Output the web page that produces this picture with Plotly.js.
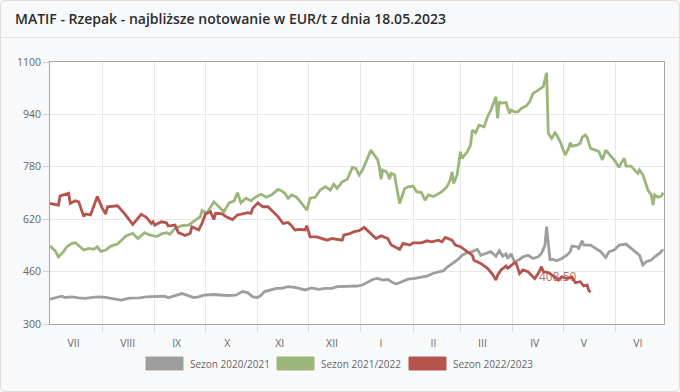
<!DOCTYPE html>
<html>
<head>
<meta charset="utf-8">
<script src="https://cdn.plot.ly/plotly-3.0.1.min.js"></script>
<style>
  html, body { margin: 0; padding: 0; background: #ffffff; }
  #card { position: absolute; left: 0; top: 0; width: 678px; height: 390px;
          border: 1px solid #dedede; border-radius: 4px; background: #f8f9fa; }
  #hdr { position: absolute; left: 0; top: 36px; width: 678px; height: 1px; background: #e2e3e5; }
  #chart { position: absolute; left: 0; top: 0; width: 680px; height: 392px; }
</style>
</head>
<body>
<div id="card"><div id="hdr"></div></div>
<div id="chart"></div>
<script>
// Day of season (0 = 1 July) and price in EUR/t
const dni2020 = [0,4,7,9,13,17,21,25,29,33,37,42,47,53,57,63,68,70,74,78,81,85,88,91,97,101,105,110,114,117,120,123,125,127,131,134,137,141,145,148,151,155,159,163,167,170,174,178,182,185,189,191,194,197,200,202,205,208,212,216,220,223,227,230,233,235,238,241,244,247,250,253,255,258,261,264,266,268,270,271,273,275,278,280,283,286,289,291,293,294,296,298,300,303,306,308,309,312,313,315,316,320,323,326,329,331,334,337,341,344,347,349,351,353,356,358,361,363];
const sezon2020 = [376,381,385,381,383,380,378,381,383,381,377,373,379,380,383,383,385,380,387,393,388,381,383,388,390,388,387,388,399,396,383,381,388,399,404,409,409,414,412,409,404,410,406,409,409,414,414,416,416,419,429,436,439,434,436,429,422,429,437,439,442,446,455,460,463,473,483,495,510,518,521,528,510,516,521,507,524,507,514,500,514,490,497,505,510,500,505,516,540,597,497,497,493,500,510,521,538,536,531,554,541,541,531,521,503,521,526,541,544,531,516,510,480,490,495,505,516,528];

const dni2021 = [0,3,5,8,10,13,15,17,20,23,26,28,30,33,36,40,45,49,52,56,59,63,66,69,71,74,78,82,85,89,90,91,93,97,100,103,106,109,111,113,116,119,122,125,128,131,135,137,139,141,143,146,149,152,154,157,160,163,166,168,170,173,176,179,181,183,185,187,188,190,192,194,195,196,197,199,200,201,202,204,205,207,208,210,212,215,217,220,222,224,227,230,232,235,237,238,239,241,243,244,247,249,250,252,254,257,259,261,264,265,266,267,270,272,273,275,277,279,282,284,286,289,292,294,295,297,299,300,302,305,307,308,309,312,314,315,317,318,320,323,325,327,329,331,334,337,338,340,341,344,346,348,349,351,352,354,356,357,358,360,362,363];
const sezon2021 = [538,524,505,521,536,546,548,538,526,531,528,536,522,526,538,544,569,577,561,579,572,567,575,579,574,592,600,602,614,628,646,643,640,673,658,643,670,676,701,670,684,676,689,696,687,694,711,707,699,684,694,687,668,648,684,687,709,719,709,727,714,734,742,778,775,755,770,796,806,831,816,801,780,742,770,765,758,742,760,755,724,668,684,714,719,721,704,701,678,694,689,699,704,719,740,765,729,755,826,806,826,846,892,884,907,902,933,953,994,928,979,974,976,943,953,948,948,958,966,979,1004,1014,1025,1067,882,867,884,877,857,816,836,854,843,846,852,870,877,870,836,831,826,801,831,819,801,778,790,806,782,782,770,760,770,755,740,709,694,663,694,687,691,701];

const dni2022 = [0,5,6,9,11,12,15,17,20,21,24,28,31,33,34,40,44,49,54,57,60,61,62,66,69,70,74,76,80,83,84,88,90,92,95,97,98,102,104,108,111,114,117,119,120,123,126,129,132,135,138,141,143,145,148,151,152,154,158,164,167,170,173,174,177,180,183,186,190,193,196,200,202,207,209,213,215,220,223,226,230,232,234,238,240,243,247,250,251,255,259,262,264,265,267,270,271,273,275,276,278,280,283,285,287,289,291,292,295,298,301,303,306,309,311,314,316,318,319,320];
const sezon2022 = [668,663,691,697,699,668,676,673,628,636,633,689,653,636,658,661,638,604,635,626,607,612,602,612,609,599,602,579,570,577,597,587,607,636,643,619,638,636,628,619,633,636,640,638,653,670,658,658,643,628,607,610,600,587,589,587,600,566,566,556,561,558,556,572,575,582,585,595,577,561,569,561,541,528,546,541,548,548,554,551,556,551,564,556,541,536,521,510,495,485,470,452,434,449,465,477,470,480,487,485,454,465,460,449,439,454,475,460,457,446,434,444,439,444,426,429,416,419,402,397];

const seriesNames = ["Sezon 2020/2021", "Sezon 2021/2022", "Sezon 2022/2023"];
const seriesColors = ["#9e9e9e", "#9bb67a", "#b5544d"];
const monthLabels = ["VII","VIII","IX","X","XI","XII","I","II","III","IV","V","VI"];
const monthLabelDays = [14,46,75,105,136,167,196,227,256,287,316,348];
const monthStartDays = [31,62,92,123,153,184,215,243,274,304,335];
const yTicks = [300,460,620,780,940,1100];
const lastLabel = "408.50";
const lastLabelDay = 301, lastLabelValue = 444;

const xs = [dni2020, dni2021, dni2022];
const ys = [sezon2020, sezon2021, sezon2022];

const traces = xs.map((x, i) => ({
  type: 'scatter', mode: 'lines', x: x, y: ys[i], name: seriesNames[i],
  line: {color: seriesColors[i], width: 2.8}, hoverinfo: 'skip', showlegend: false
}));

// plot area in pixels
const L = 50, R = 664, T = 62, B = 324;
const px2x = p => (p - L) / (R - L);
const px2y = p => (B - p) / (B - T);

const swLeft = [146, 277, 409], swW = 37, swTop = 357, swBot = 370;
const shapes = [], annotations = [];
seriesNames.forEach((n, i) => {
  shapes.push({type: 'rect', xref: 'paper', yref: 'paper',
    x0: px2x(swLeft[i]), x1: px2x(swLeft[i] + swW), y0: px2y(swBot), y1: px2y(swTop),
    fillcolor: seriesColors[i], line: {color: seriesColors[i], width: 1}, layer: 'above'});
  annotations.push({xref: 'paper', yref: 'paper', x: px2x(swLeft[i] + swW + 5), y: px2y(363.5),
    xanchor: 'left', yanchor: 'middle', showarrow: false, text: n,
    font: {family: 'Open Sans', size: 10, color: '#666'}});
});
annotations.push({x: lastLabelDay, y: lastLabelValue, xref: 'x', yref: 'y', showarrow: false,
  text: lastLabel, xanchor: 'center', yanchor: 'middle',
  font: {family: 'Open Sans', size: 12, color: 'rgba(185,80,74,0.85)'}});

const layout = {
  width: 680, height: 392,
  margin: {l: L, r: 680 - R, t: T, b: 392 - B, pad: 0},
  paper_bgcolor: 'rgba(0,0,0,0)', plot_bgcolor: '#ffffff',
  title: {text: 'MATIF - Rzepak - najbliższe notowanie w EUR/t z dnia 18.05.2023',
    xref: 'container', yref: 'container', x: 15 / 680, xanchor: 'left',
    y: 1 - 19 / 392, yanchor: 'middle',
    font: {family: 'Open Sans', size: 14, color: '#2b2b2b', weight: 600}},
  xaxis: {type: 'linear', range: [0, 363.5], tickmode: 'array', tickvals: monthLabelDays,
    ticktext: monthLabels, showgrid: false, zeroline: false, ticks: 'outside', ticklen: 9,
    tickcolor: 'rgba(0,0,0,0)', showline: true, mirror: true, linecolor: '#a8a8a8', linewidth: 1,
    tickfont: {family: 'Open Sans', size: 10.5, color: '#666'},
    minor: {tickmode: 'array', tickvals: monthStartDays, ticks: 'outside', ticklen: 7,
      tickcolor: '#d8d8d8', tickwidth: 1, showgrid: true, gridcolor: '#e8e8e8', gridwidth: 1}},
  yaxis: {range: [300, 1100], tickmode: 'array', tickvals: yTicks, showgrid: true,
    gridcolor: '#e8e8e8', zeroline: false, ticks: 'outside', ticklen: 6, tickcolor: '#d0d0d0',
    showline: true, mirror: true, linecolor: '#a8a8a8', linewidth: 1,
    tickfont: {family: 'Open Sans', size: 10.5, color: '#666'}},
  showlegend: false,
  shapes: shapes, annotations: annotations
};

Plotly.newPlot('chart', traces, layout, {displayModeBar: false, staticPlot: true});
</script>
</body>
</html>
